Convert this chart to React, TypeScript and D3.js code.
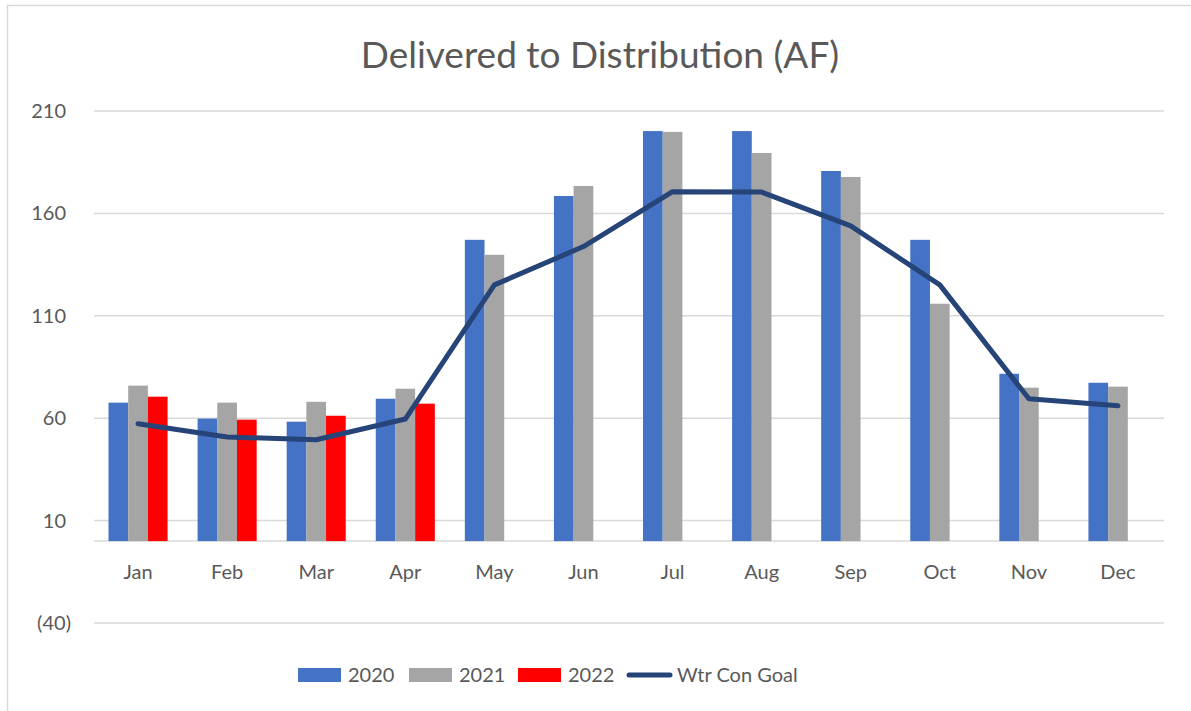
import * as d3 from 'd3';

const MONTHS = ['Jan', 'Feb', 'Mar', 'Apr', 'May', 'Jun', 'Jul', 'Aug', 'Sep', 'Oct', 'Nov', 'Dec'];
const SERIES = ['2020', '2021', '2022'];

// bar values (AF); null = no bar
const V2020: (number | null)[] = [67.6, 59.8, 58.3, 69.5, 147.1, 168.5, 200.2, 200.2, 180.7, 147.1, 81.7, 77.3];
const V2021: (number | null)[] = [75.9, 67.6, 68.0, 74.4, 139.8, 173.4, 199.8, 189.5, 177.8, 115.9, 74.9, 75.4];
const V2022: (number | null)[] = [70.5, 59.3, 61.2, 67.1, null, null, null, null, null, null, null, null];
const GOAL = [57.3, 50.8, 49.5, 59.6, 125.1, 143.8, 170.6, 170.4, 153.9, 125.1, 69.5, 66.1];

const Y_TICKS = [-40, 10, 60, 110, 160, 210];

const COLORS: Record<string, string> = {
  '2020': '#4472C4',
  '2021': '#A5A5A5',
  '2022': '#FF0000',
};
const LINE_COLOR = '#264478';
const TEXT = '#595959';
const GRID = '#d9d9d9';
const FONT = 'Lato, "Open Sans", sans-serif';

const W = 1191;
const H = 711;

function fmt(v: number) {
  return v < 0 ? `(${Math.abs(v)})` : `${v}`;
}

export default function App() {
  const x = d3.scaleBand<string>().domain(MONTHS).range([93.5, 1162.5]).paddingInner(0.337).paddingOuter(0.1685);
  const xs = d3.scaleBand<string>().domain(SERIES).range([0, x.bandwidth()]);
  const y = d3.scaleLinear().domain([-40, 210]).range([623, 111]);

  const rows = [V2020, V2021, V2022];
  const bars = rows.flatMap((vals, si) =>
    vals.map((v, mi) => ({ s: SERIES[si], m: MONTHS[mi], v }))
  ).filter(d => d.v !== null) as { s: string; m: string; v: number }[];

  const line = d3.line<number>()
    .x((_, i) => (x(MONTHS[i]) ?? 0) + x.bandwidth() / 2)
    .y(d => y(d));

  const legend = [
    { key: '2020', type: 'rect', x: 298 },
    { key: '2021', type: 'rect', x: 409 },
    { key: '2022', type: 'rect', x: 518 },
    { key: 'Wtr Con Goal', type: 'line', x: 627 },
  ];

  return (
    <svg width={W} height={H} style={{ position: 'fixed', left: 0, top: 0, background: '#fff' }}>
      <rect x={7.5} y={5.5} width={W + 20} height={H + 20} fill="#fff" stroke={GRID} strokeWidth={1.5} />

      <text x={600} y={68} textAnchor="middle" fontFamily={FONT} fontSize={37} fill={TEXT}>
        Delivered to Distribution (AF)
      </text>

      {/* gridlines + y labels */}
      {Y_TICKS.map(t => (
        <g key={t}>
          <line x1={94} x2={1164} y1={y(t)} y2={y(t)} stroke={GRID} strokeWidth={1.5} />
          <text x={t < 0 ? 71 : 66} y={y(t)} dy="0.35em" textAnchor="end" fontFamily={FONT} fontSize={20} fill={TEXT}>
            {fmt(t)}
          </text>
        </g>
      ))}
      {/* category axis at zero */}
      <line x1={94} x2={1164} y1={y(0)} y2={y(0)} stroke={GRID} strokeWidth={1.5} />

      {bars.map(d => (
        <rect
          key={d.s + d.m}
          x={(x(d.m) ?? 0) + (xs(d.s) ?? 0)}
          y={y(d.v)}
          width={xs.bandwidth()}
          height={y(0) - y(d.v)}
          fill={COLORS[d.s]}
        />
      ))}

      <path d={line(GOAL) ?? ''} fill="none" stroke={LINE_COLOR} strokeWidth={5} strokeLinecap="round" strokeLinejoin="round" />

      {MONTHS.map(m => (
        <text key={m} x={(x(m) ?? 0) + x.bandwidth() / 2} y={579} textAnchor="middle" fontFamily={FONT} fontSize={20} fill={TEXT}>
          {m}
        </text>
      ))}

      {/* legend */}
      {legend.map(l => (
        <g key={l.key}>
          {l.type === 'rect'
            ? <rect x={l.x} y={668} width={43} height={14} fill={COLORS[l.key]} />
            : <line x1={l.x + 2} x2={l.x + 43} y1={675} y2={675} stroke={LINE_COLOR} strokeWidth={5} strokeLinecap="round" />}
          <text x={l.x + 50} y={675} dy="0.35em" fontFamily={FONT} fontSize={20} fill={TEXT}>
            {l.key}
          </text>
        </g>
      ))}
    </svg>
  );
}
